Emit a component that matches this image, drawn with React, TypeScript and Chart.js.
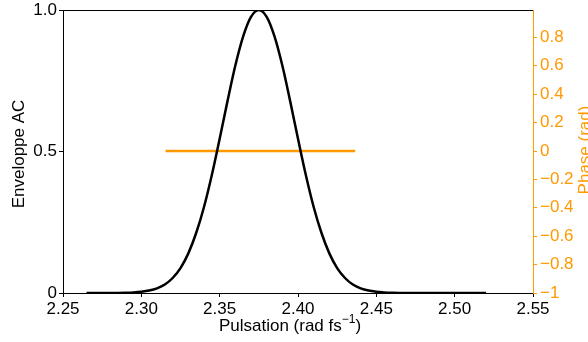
import React, { useEffect, useRef } from 'react';
import { Chart, registerables } from 'chart.js';
Chart.register(...registerables);

// Spectral envelope (pulsation in rad/fs)
const omega = [
  2.265, 2.27, 2.275, 2.28, 2.285, 2.29, 2.295, 2.3, 2.305, 2.31, 2.315, 2.32, 2.325, 2.33, 2.335, 2.34,
  2.345, 2.35, 2.355, 2.36, 2.365, 2.37, 2.375, 2.38, 2.385, 2.39, 2.395, 2.4, 2.405, 2.41, 2.415, 2.42,
  2.425, 2.43, 2.435, 2.44, 2.445, 2.45, 2.455, 2.46, 2.465, 2.47, 2.475, 2.48, 2.485, 2.49, 2.495, 2.5,
  2.505, 2.51, 2.515, 2.52,
];
const envelope = [
  0, 0.00002, 0.0001, 0.0002, 0.0004, 0.0009, 0.002, 0.0043, 0.0086, 0.0165, 0.03, 0.053, 0.088, 0.14, 0.212, 0.304,
  0.417, 0.545, 0.678, 0.804, 0.907, 0.976, 1.0, 0.976, 0.907, 0.804, 0.678, 0.545, 0.417, 0.304, 0.212, 0.14,
  0.088, 0.053, 0.03, 0.0165, 0.0086, 0.0043, 0.002, 0.0009, 0.0004, 0.0002, 0.0001, 0.00002, 0, 0, 0, 0,
  0, 0, 0, 0,
];

// Spectral phase
const phaseOmega = [2.3155, 2.3755, 2.4365];
const phase = [0, 0, 0];

// Axis ticks
const xTicks = [2.25, 2.3, 2.35, 2.4, 2.45, 2.5, 2.55];
const leftTicks = [0, 0.5, 1];
const leftLabels = ['0', '0.5', '1.0'];
const rightTicks = [-1, -0.8, -0.6, -0.4, -0.2, 0, 0.2, 0.4, 0.6, 0.8];
const rightLabels = ['\u22121', '\u22120.8', '\u22120.6', '\u22120.4', '\u22120.2', '0', '0.2', '0.4', '0.6', '0.8'];

const ORANGE = 'rgb(255,153,0)';
const FONT = '"Liberation Sans", Arial, Helvetica, sans-serif';
const FS = 17;

const framePlugin = {
  id: 'frameTitles',
  afterDraw(chart: any) {
    const { ctx, chartArea } = chart;
    const { left, right, top } = chartArea;
    ctx.save();
    ctx.strokeStyle = '#000';
    ctx.lineWidth = 1;
    ctx.beginPath();
    ctx.moveTo(left, Math.round(top) + 0.5);
    ctx.lineTo(right, Math.round(top) + 0.5);
    ctx.stroke();

    ctx.fillStyle = '#000';
    ctx.font = `${FS}px ${FONT}`;
    ctx.textAlign = 'center';
    ctx.textBaseline = 'middle';
    ctx.save();
    ctx.translate(19, 154);
    ctx.rotate(-Math.PI / 2);
    ctx.fillText('Enveloppe AC', 0, 0);
    ctx.restore();

    const a = 'Pulsation (rad fs';
    const sup = '\u22121';
    const b = ')';
    ctx.font = `${FS}px ${FONT}`;
    const wa = ctx.measureText(a).width;
    const wb = ctx.measureText(b).width;
    ctx.font = `12px ${FONT}`;
    const ws = ctx.measureText(sup).width;
    const x0 = 290 - (wa + ws + wb) / 2;
    const base = 331;
    ctx.textAlign = 'left';
    ctx.textBaseline = 'alphabetic';
    ctx.font = `${FS}px ${FONT}`;
    ctx.fillText(a, x0, base);
    ctx.fillText(b, x0 + wa + ws, base);
    ctx.font = `12px ${FONT}`;
    ctx.fillText(sup, x0 + wa, base - 8);

    ctx.fillStyle = ORANGE;
    ctx.font = `${FS}px ${FONT}`;
    ctx.textAlign = 'center';
    ctx.textBaseline = 'middle';
    ctx.save();
    ctx.translate(585, 150);
    ctx.rotate(-Math.PI / 2);
    ctx.fillText('Phase (rad)', 0, 0);
    ctx.restore();
    ctx.restore();
  },
};

export default function App() {
  const ref = useRef<HTMLCanvasElement>(null);
  useEffect(() => {
    if (!ref.current) return;
    const chart = new Chart(ref.current, {
      type: 'line',
      data: {
        datasets: [
          {
            label: 'Enveloppe',
            data: omega.map((x, i) => ({ x, y: envelope[i] })),
            borderColor: '#000',
            borderWidth: 2.5,
            pointRadius: 0,
            cubicInterpolationMode: 'monotone',
            yAxisID: 'y',
            fill: false,
          },
          {
            label: 'Phase',
            data: phaseOmega.map((x, i) => ({ x, y: phase[i] })),
            borderColor: ORANGE,
            borderWidth: 2.5,
            pointRadius: 0,
            yAxisID: 'y2',
            fill: false,
          },
        ],
      },
      options: {
        responsive: false,
        animation: false,
        layout: { padding: { top: 10, left: 0, right: 0, bottom: 0 } },
        plugins: { legend: { display: false }, tooltip: { enabled: false } },
        scales: {
          x: {
            type: 'linear',
            min: 2.25,
            max: 2.55,
            afterBuildTicks: (s: any) => {
              s.ticks = xTicks.map((v) => ({ value: v }));
            },
            afterFit: (s: any) => {
              s.height = 49;
              s.paddingLeft = 0;
              s.paddingRight = 0;
            },
            ticks: {
              color: '#000',
              font: { family: FONT, size: FS },
              padding: 2,
              maxRotation: 0,
              autoSkip: false,
              callback: (v: any) => Number(v).toFixed(2),
            },
            grid: { drawOnChartArea: false, drawTicks: true, tickLength: 4, color: '#000' },
            border: { color: '#000', width: 1 },
          },
          y: {
            type: 'linear',
            position: 'left',
            min: 0,
            max: 1,
            afterBuildTicks: (s: any) => {
              s.ticks = leftTicks.map((v) => ({ value: v }));
            },
            afterFit: (s: any) => {
              s.width = 63;
              s.paddingTop = 0;
              s.paddingBottom = 0;
            },
            ticks: {
              color: '#000',
              font: { family: FONT, size: FS },
              padding: 2,
              autoSkip: false,
              callback: (v: any) => leftLabels[leftTicks.indexOf(Number(v))] ?? '',
            },
            grid: { drawOnChartArea: false, drawTicks: true, tickLength: 4, color: '#000' },
            border: { color: '#000', width: 1 },
          },
          y2: {
            type: 'linear',
            position: 'right',
            min: -1,
            max: 0.993,
            afterBuildTicks: (s: any) => {
              s.ticks = rightTicks.map((v) => ({ value: v }));
            },
            afterFit: (s: any) => {
              s.width = 55;
              s.paddingTop = 0;
              s.paddingBottom = 0;
            },
            ticks: {
              color: ORANGE,
              font: { family: FONT, size: FS },
              padding: 3,
              autoSkip: false,
              callback: (v: any) => {
                const i = rightTicks.findIndex((t) => Math.abs(t - Number(v)) < 1e-9);
                return i >= 0 ? rightLabels[i] : '';
              },
            },
            grid: { drawOnChartArea: false, drawTicks: true, tickLength: 4, color: ORANGE },
            border: { color: ORANGE, width: 1 },
          },
        },
      },
      plugins: [framePlugin],
    } as any);
    return () => chart.destroy();
  }, []);
  return (
    <div style={{ position: 'absolute', left: 0, top: 0, width: 588, height: 342, background: '#fff' }}>
      <canvas ref={ref} width={588} height={342} />
    </div>
  );
}
